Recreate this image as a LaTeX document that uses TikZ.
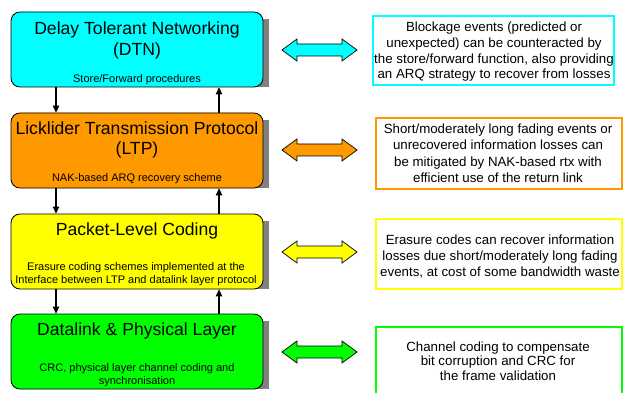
\documentclass[tikz,border=0pt]{standalone}
\usepackage{fontspec}
\setmainfont{Liberation Sans}
\usetikzlibrary{calc,arrows.meta}
\definecolor{cCyan}{HTML}{00FFFF}
\definecolor{cOrange}{HTML}{FF9900}
\definecolor{cYellow}{HTML}{FFFF00}
\definecolor{cGreen}{HTML}{00FF00}
\definecolor{cShadow}{HTML}{808080}
\tikzset{
  layer/.style={draw=black, line width=0.8pt, rounded corners=9pt, minimum width=252pt, minimum height=75pt, inner sep=0pt},
  ttl/.style={font=\fontsize{17.6}{20}\selectfont, inner sep=0pt, anchor=base},
  sub/.style={font=\fontsize{11}{12.8}\selectfont, inner sep=0pt, anchor=base, align=center},
  note/.style={line width=2pt, minimum width=242pt, inner sep=0pt},
  notetext/.style={inner sep=0pt, anchor=base, align=center},
  flow/.style={line width=1.3pt, -{Triangle[length=7pt,width=6.5pt]}},
  dblarr/.pic={\draw[pic actions, line width=0.7pt, line join=miter]
     (-37.5,0) -- (-22.5,-11) -- (-22.5,-6) -- (22.5,-6) -- (22.5,-11) -- (37.5,0)
     -- (22.5,11) -- (22.5,6) -- (-22.5,6) -- (-22.5,11) -- cycle;}
}
\begin{document}
\begin{tikzpicture}[x=1pt,y=-1pt]
\useasboundingbox (0,0) rectangle (624,393);
\clip (0,0) rectangle (624,393);
% left layer boxes
\node[layer, fill=cCyan, draw=none] (dtn) at (137,49.5) {};
\node[layer, fill=cOrange, draw=none] (ltp) at (137,150.5) {};
\node[layer, fill=cYellow, draw=none] (plc) at (137,251.5) {};
\node[layer, fill=cGreen, draw=none] (dl) at (137,351.5) {};
\foreach \n in {dtn,ltp,plc,dl}{
  \fill[cShadow] ($(\n.south west)+(6,0)$) rectangle ($(\n.north east)+(6,7)$);
}
\node[layer, fill=cCyan] (dtnb) at (dtn) {};
\node[layer, fill=cOrange] (ltpb) at (ltp) {};
\node[layer, fill=cYellow] (plcb) at (plc) {};
\node[layer, fill=cGreen] (dlb) at (dl) {};
% texts
\node[ttl] (t1a) at (137,35) {Delay Tolerant Networking};
\node[ttl] (t1b) at (137,56) {(DTN)};
\node[sub] (s1) at (137,82.5) {Store/Forward procedures};
\node[ttl] (t2a) at (137,135) {Licklider Transmission Protocol};
\node[ttl] (t2b) at (137,154.5) {(LTP)};
\node[sub] (s2) at (137,182) {NAK-based ARQ recovery scheme};
\node[ttl] (t3) at (137,235) {Packet-Level Coding};
\node[sub] (s3) at (136,283) {Erasure coding schemes implemented at the\\Interface between LTP and datalink layer protocol};
\node[ttl] (t4) at (137,335) {Datalink \& Physical Layer};
\node[sub] (s4) at (137,384.5) {CRC, physical layer channel coding and\\synchronisation};
% vertical flows
\coordinate (xl) at (56,0);
\coordinate (xr) at (219,0);
\draw[flow] (xl |- dtnb.south) -- (xl |- ltpb.north);
\draw[flow] (xr |- ltpb.north) -- (xr |- dtnb.south);
\draw[flow] (xl |- ltpb.south) -- (xl |- plcb.north);
\draw[flow] (xr |- plcb.north) -- (xr |- ltpb.south);
\draw[flow] (xl |- plcb.south) -- (xl |- dlb.north);
\draw[flow] (xr |- dlb.north) -- (xr |- plcb.south);
% double arrows
\pic[fill=cCyan] (a1) at (319.5,50) {dblarr};
\pic[fill=cOrange] (a2) at (319.5,150) {dblarr};
\pic[fill=cYellow] (a3) at (319.5,252) {dblarr};
\pic[fill=cGreen] (a4) at (319.5,352) {dblarr};
% notes
\node[note, draw=cCyan, minimum width=241pt, minimum height=69pt] (n1) at (493.5,50.5) {};
\node[note, draw=cOrange, minimum width=246pt, minimum height=71pt] (n2) at (499,153.5) {};
\node[note, draw=cYellow, minimum width=246pt, minimum height=70pt] (n3) at (499,254) {};
\node[note, draw=cGreen, minimum width=246pt, minimum height=80pt] (n4) at (499,367) {};
\node[notetext, font=\fontsize{13.3}{15.8}\selectfont] (m1) at (494,79) {Blockage events (predicted or\\unexpected) can be counteracted by\\the store/forward function, also providing\\an ARQ strategy to recover from losses};
\node[notetext, font=\fontsize{13.3}{16.4}\selectfont] (m2) at (498,182.5) {Short/moderately long fading events or\\unrecovered information losses can\\be mitigated by NAK-based rtx with\\efficient use of the return link};
\node[notetext, font=\fontsize{13.3}{16}\selectfont] (m3) at (500,276.3) {Erasure codes can recover information\\losses due short/moderately long fading\\events, at cost of some bandwidth waste};
\node[notetext, font=\fontsize{13.3}{14.8}\selectfont] (m4) at (498,380.6) {Channel coding to compensate\\bit corruption and CRC for\\the frame validation};
\end{tikzpicture}
\end{document}
